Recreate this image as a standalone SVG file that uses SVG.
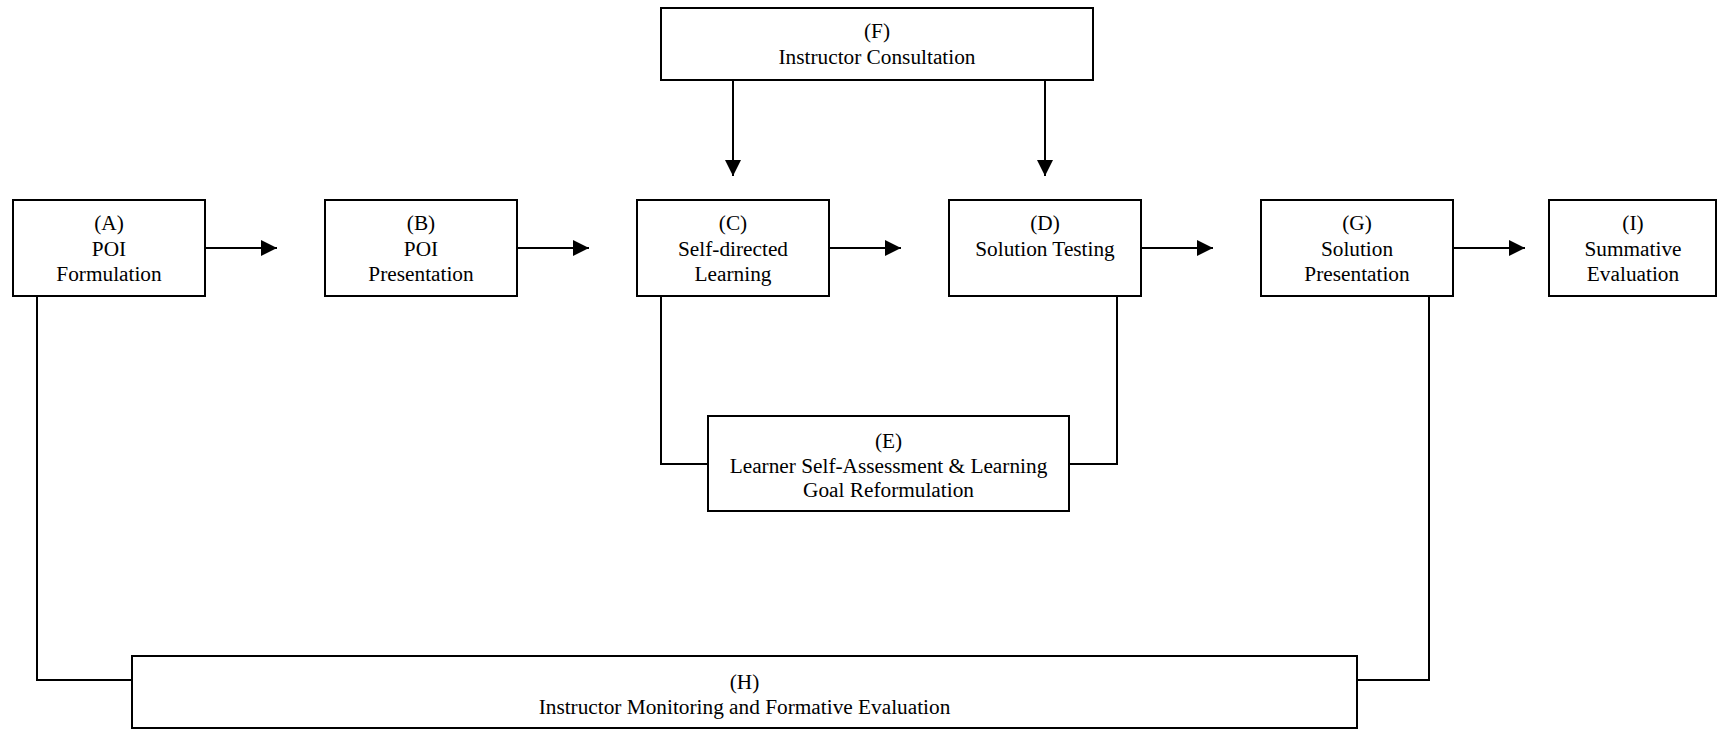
<svg xmlns="http://www.w3.org/2000/svg" width="1717" height="729" viewBox="0 0 1717 729">
<style>
.box{fill:#fff;stroke:#000;stroke-width:2}
.t{font-family:"Liberation Serif","Times New Roman",serif;font-size:21.3px;fill:#000;text-anchor:middle}
.c{fill:none;stroke:#000;stroke-width:2}
</style>
<defs>
<marker id="ah" markerUnits="userSpaceOnUse" markerWidth="16" markerHeight="16" viewBox="0 0 16 16" refX="16" refY="8" orient="auto">
<path d="M0,0 L16,8 L0,16 Z" fill="#000"/>
</marker>
</defs>
<rect width="1717" height="729" fill="#fff"/>
<g id="connectors">
<line class="c" x1="205" y1="248" x2="277" y2="248" marker-end="url(#ah)"/>
<line class="c" x1="517" y1="248" x2="589" y2="248" marker-end="url(#ah)"/>
<line class="c" x1="829" y1="248" x2="901" y2="248" marker-end="url(#ah)"/>
<line class="c" x1="1141" y1="248" x2="1213" y2="248" marker-end="url(#ah)"/>
<line class="c" x1="1453" y1="248" x2="1525" y2="248" marker-end="url(#ah)"/>
<line class="c" x1="733" y1="80" x2="733" y2="176" marker-end="url(#ah)"/>
<line class="c" x1="1045" y1="80" x2="1045" y2="176" marker-end="url(#ah)"/>
<polyline class="c" points="661,296 661,464 708,464"/>
<polyline class="c" points="1117,296 1117,464 1069,464"/>
<polyline class="c" points="37,296 37,680 132,680"/>
<polyline class="c" points="1429,296 1429,680 1357,680"/>
</g>
<g id="nodeA"><rect class="box" x="13" y="200" width="192" height="96"/>
<text class="t" x="109" y="230">(A)</text><text class="t" x="109" y="255.5">POI</text><text class="t" x="109" y="280.5">Formulation</text></g>
<g id="nodeB"><rect class="box" x="325" y="200" width="192" height="96"/>
<text class="t" x="421" y="230">(B)</text><text class="t" x="421" y="255.5">POI</text><text class="t" x="421" y="280.5">Presentation</text></g>
<g id="nodeC"><rect class="box" x="637" y="200" width="192" height="96"/>
<text class="t" x="733" y="230">(C)</text><text class="t" x="733" y="255.5">Self-directed</text><text class="t" x="733" y="280.5">Learning</text></g>
<g id="nodeD"><rect class="box" x="949" y="200" width="192" height="96"/>
<text class="t" x="1045" y="230">(D)</text><text class="t" x="1045" y="255.5">Solution Testing</text></g>
<g id="nodeG"><rect class="box" x="1261" y="200" width="192" height="96"/>
<text class="t" x="1357" y="230">(G)</text><text class="t" x="1357" y="255.5">Solution</text><text class="t" x="1357" y="280.5">Presentation</text></g>
<g id="nodeI"><rect class="box" x="1549" y="200" width="167" height="96"/>
<text class="t" x="1633" y="230">(I)</text><text class="t" x="1633" y="255.5">Summative</text><text class="t" x="1633" y="280.5">Evaluation</text></g>
<g id="nodeF"><rect class="box" x="661" y="8" width="432" height="72"/>
<text class="t" x="877" y="38">(F)</text><text class="t" x="877" y="64">Instructor Consultation</text></g>
<g id="nodeE"><rect class="box" x="708" y="416" width="361" height="95"/>
<text class="t" x="888.5" y="447.5">(E)</text><text class="t" x="888.5" y="472.5">Learner Self-Assessment &amp; Learning</text><text class="t" x="888.5" y="497">Goal Reformulation</text></g>
<g id="nodeH"><rect class="box" x="132" y="656" width="1225" height="72"/>
<text class="t" x="744.5" y="689">(H)</text><text class="t" x="744.5" y="714">Instructor Monitoring and Formative Evaluation</text></g>
</svg>
